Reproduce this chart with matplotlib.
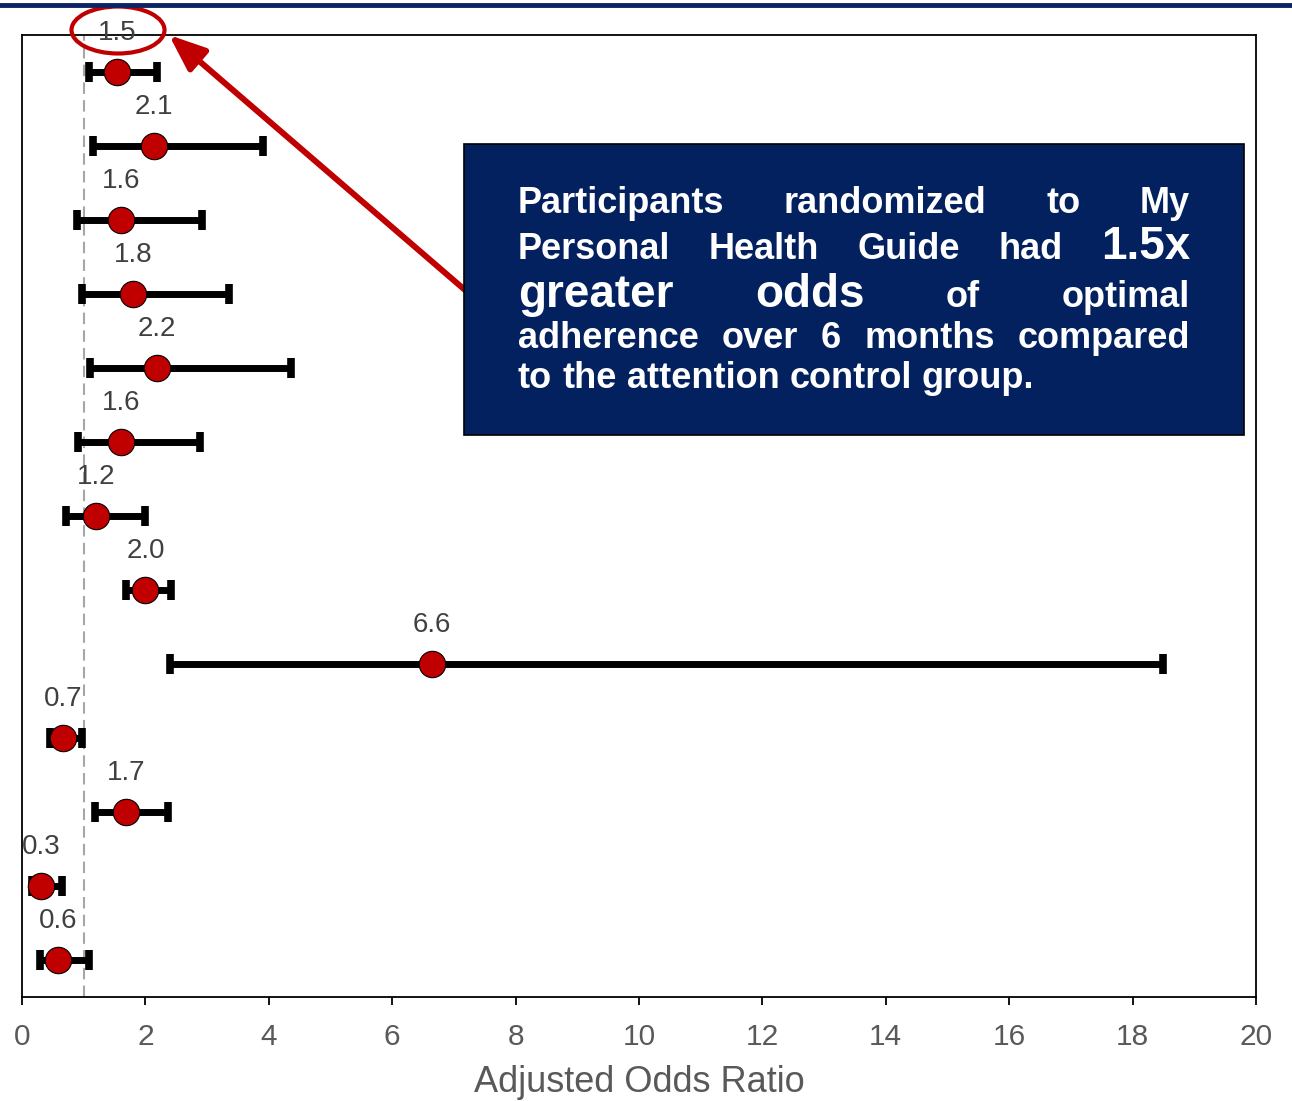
import matplotlib
matplotlib.use("Agg")
import matplotlib.pyplot as plt
from matplotlib.patches import Ellipse, Rectangle, FancyArrowPatch
from matplotlib.lines import Line2D
import numpy as np

# ---- data ----
odds_ratio = [1.54, 2.14, 1.60, 1.80, 2.19, 1.60, 1.20, 2.00, 6.65, 0.66, 1.69, 0.31, 0.58]
ci_lower   = [1.09, 1.15, 0.89, 0.97, 1.10, 0.91, 0.71, 1.69, 2.40, 0.45, 1.18, 0.16, 0.29]
ci_upper   = [2.19, 3.90, 2.92, 3.35, 4.36, 2.88, 1.99, 2.41, 18.50, 0.97, 2.37, 0.65, 1.09]
value_labels = ["1.5", "2.1", "1.6", "1.8", "2.2", "1.6", "1.2", "2.0", "6.6", "0.7", "1.7", "0.3", "0.6"]
x_ticks = [0, 2, 4, 6, 8, 10, 12, 14, 16, 18, 20]
x_label = "Adjusted Odds Ratio"
reference_line = 1.0

W, H = 1292, 1101
plt.rcParams['font.family'] = ['Liberation Sans', 'DejaVu Sans']

fig = plt.figure(figsize=(W / 100, H / 100), dpi=100)
fig.patch.set_facecolor('white')

def fx(px):
    return px / W

def fy(py):
    return 1 - py / H

ax = fig.add_axes([fx(22), fy(997), fx(1256) - fx(22), fy(35) - fy(997)])

n = len(odds_ratio)
ypos = np.arange(n) + 0.5
orr = np.array(odds_ratio)
lo = np.array(ci_lower)
hi = np.array(ci_upper)

ax.axvline(reference_line, color='#A6A6A6', lw=1.5, ls=(0, (5.5, 3)), zorder=1)
ax.errorbar(orr, ypos, xerr=[orr - lo, hi - orr], fmt='none', ecolor='black',
            elinewidth=5, capsize=7, capthick=5.5, zorder=2)
ax.plot(orr, ypos, 'o', ms=19, mfc='#C00000', mec='black', mew=0.8, zorder=3, ls='none')

for v, y, lab in zip(orr, ypos, value_labels):
    ax.text(v, y - 0.53, lab, ha='center', va='center', fontsize=20, color='#404040', zorder=4)

ax.set_xlim(0, 20)
ax.set_ylim(n, 0)
ax.set_xticks(x_ticks)
ax.set_yticks([])
ax.tick_params(axis='x', direction='out', length=6, width=1.3, colors='black',
               labelcolor='#595959', labelsize=21.5, pad=13)
for s in ax.spines.values():
    s.set_linewidth(1.3)
    s.set_color('black')
ax.set_xlabel(x_label, fontsize=26, color='#595959', labelpad=10)

# top navy rule
fig.add_artist(Line2D([0, 1], [fy(5), fy(5)], transform=fig.transFigure,
                      color='#0B2466', lw=3.5))

# ellipse highlight
fig.add_artist(Ellipse((fx(118), fy(30)), 93 / W, 47 / H, transform=fig.transFigure,
                       fill=False, edgecolor='#C00000', lw=3))

# arrow
fig.add_artist(FancyArrowPatch((fx(465), fy(290)), (fx(169), fy(35)), transform=fig.transFigure,
                               arrowstyle='-|>,head_length=1.0,head_width=0.4', mutation_scale=22,
                               color='#C00000', lw=4.3, shrinkA=0, shrinkB=0))

# callout box
fig.add_artist(Rectangle((fx(464), fy(435)), (1244 - 464) / W, (435 - 144) / H,
                         transform=fig.transFigure, facecolor='#03215E', edgecolor='black', lw=1.2))

lines = [
    ([("Participants", 26), ("randomized", 26), ("to", 26), ("My", 26)], 213, True),
    ([("Personal", 26), ("Health", 26), ("Guide", 26), ("had", 26), ("1.5x", 33)], 259, True),
    ([("greater", 33), ("odds", 33), ("of", 26), ("optimal", 26)], 307, True),
    ([("adherence", 26), ("over", 26), ("6", 26), ("months", 26), ("compared", 26)], 348, True),
    ([("to", 26), ("the", 26), ("attention", 26), ("control", 26), ("group.", 26)], 388, False),
]
L, R = 518, 1190
fig.canvas.draw()
rend = fig.canvas.get_renderer()
for words, base, justify in lines:
    texts = []
    for w, fs in words:
        t = fig.text(fx(L), fy(base), w, fontsize=fs, fontweight='bold', color='white',
                     ha='left', va='baseline')
        texts.append(t)
    widths = [t.get_window_extent(rend).width for t in texts]
    if justify:
        gap = (R - L - sum(widths)) / (len(texts) - 1)
    else:
        gap = 26 * 100 / 72 * 0.278
    x = L
    for t, wd in zip(texts, widths):
        t.set_x(fx(x))
        x += wd + gap

fig.savefig('out.png', dpi=100)
